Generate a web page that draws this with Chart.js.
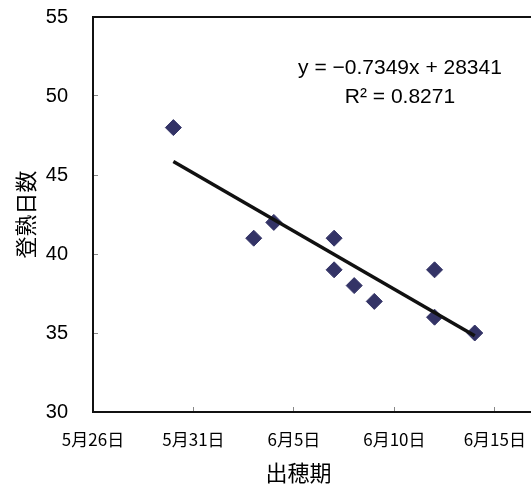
<!DOCTYPE html>
<html>
<head>
<meta charset="utf-8">
<script src="https://cdn.jsdelivr.net/npm/chart.js@4"></script>
<style>
  html, body { margin: 0; padding: 0; background: #fff; overflow: hidden; }
  .wrap { width: 531px; height: 484px; position: relative; }
</style>
</head>
<body>
<div class="wrap"><canvas id="chart"></canvas></div>
<script>
// x = days after May 26
const xTickDays = [0, 5, 10, 15, 20];
const xTickLabels = ['5月26日', '5月31日', '6月5日', '6月10日', '6月15日'];
const headingDay = [4, 8, 9, 12, 12, 13, 14, 17, 17, 19];
const grainFillDays = [48, 41, 42, 41, 39, 38, 37, 39, 36, 35];
const trendDay = [4, 19];
const trendValue = [45.85, 34.82];
const equationText = 'y = −0.7349x + 28341';
const r2Text = 'R² = 0.8271';

const NUM_FONT = '"Liberation Sans", Arial, sans-serif';
const JP_FONT = '"Noto Sans CJK JP", sans-serif';

const equationLabel = {
  id: 'equationLabel',
  afterDraw(chart) {
    const { ctx, chartArea } = chart;
    ctx.save();
    ctx.fillStyle = '#000';
    ctx.font = '21px ' + NUM_FONT;
    ctx.textAlign = 'center';
    ctx.textBaseline = 'middle';
    ctx.fillText(equationText, chartArea.left + 307, chartArea.top + 51);
    ctx.fillText(r2Text, chartArea.left + 307, chartArea.top + 80);
    ctx.restore();
  }
};

new Chart(document.getElementById('chart'), {
  type: 'scatter',
  data: {
    datasets: [
      {
        label: 'trend',
        type: 'line',
        data: trendDay.map((d, i) => ({ x: d, y: trendValue[i] })),
        borderColor: '#111',
        borderWidth: 3.5,
        pointRadius: 0,
        fill: false,
        order: 1
      },
      {
        label: '登熟日数',
        data: headingDay.map((d, i) => ({ x: d, y: grainFillDays[i] })),
        pointStyle: 'rectRot',
        pointRadius: 8,
        backgroundColor: '#333366',
        borderColor: '#333366',
        borderWidth: 1,
        order: 2
      }
    ]
  },
  options: {
    responsive: true,
    maintainAspectRatio: false,
    animation: false,
    layout: {
      autoPadding: false,
      padding: { top: 17, right: 0, left: 0, bottom: 0 }
    },
    plugins: {
      legend: { display: false },
      tooltip: { enabled: false }
    },
    scales: {
      x: {
        type: 'linear',
        position: 'bottom',
        min: 0,
        max: 21.8,
        afterBuildTicks(scale) {
          scale.ticks = xTickDays.map((v) => ({ value: v }));
        },
        afterFit(scale) {
          scale.height = 72;
          scale.paddingLeft = 0;
          scale.paddingRight = 0;
        },
        grid: {
          drawOnChartArea: false,
          color: '#888',
          tickLength: -5
        },
        border: { color: '#111', width: 2 },
        ticks: {
          padding: 22,
          color: '#000',
          font: { family: JP_FONT, size: 17 },
          maxRotation: 0,
          callback(value) {
            const i = xTickDays.indexOf(value);
            return i >= 0 ? xTickLabels[i] : '';
          }
        },
        title: {
          display: true,
          text: '出穂期　 ',
          color: '#000',
          font: { family: JP_FONT, size: 22, lineHeight: 1 },
          padding: { top: 0, bottom: 0 }
        }
      },
      xTop: {
        type: 'linear',
        position: 'top',
        min: 0,
        max: 21.8,
        afterFit(scale) {
          scale.height = 0;
          scale.paddingLeft = 0;
          scale.paddingRight = 0;
        },
        grid: { drawOnChartArea: false, drawTicks: false },
        border: { color: '#111', width: 2 },
        ticks: { display: false }
      },
      y: {
        min: 30,
        max: 55,
        afterFit(scale) {
          scale.width = 93;
          scale.paddingTop = 0;
          scale.paddingBottom = 0;
        },
        grid: {
          drawOnChartArea: false,
          color: '#888',
          tickLength: -5
        },
        border: { color: '#111', width: 2 },
        ticks: {
          stepSize: 5,
          padding: 30,
          color: '#000',
          font: { family: NUM_FONT, size: 20 }
        },
        title: {
          display: true,
          text: '登熟日数',
          color: '#000',
          font: { family: JP_FONT, size: 22 },
          padding: { top: 12, bottom: 0 }
        }
      }
    }
  },
  plugins: [equationLabel]
});
</script>
</body>
</html>
